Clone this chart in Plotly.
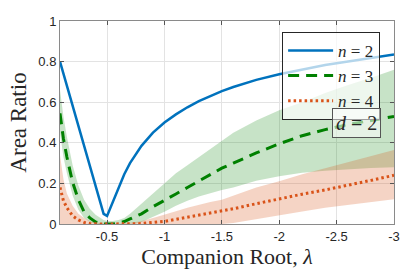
import plotly.graph_objects as go

# lambda grid (companion root)
lam = [-0.09, -0.12, -0.15, -0.2, -0.25, -0.3, -0.35, -0.4, -0.47, -0.5, -0.55, -0.6, -0.65,
       -0.7, -0.75, -0.8, -0.9, -1.0, -1.1, -1.2, -1.3, -1.4, -1.5, -1.6, -1.8, -2.0,
       -2.2, -2.4, -2.6, -2.8, -3.0]

n2 = [0.80, 0.74, 0.68, 0.58, 0.48, 0.385, 0.29, 0.19, 0.05, 0.04, 0.11, 0.18, 0.245,
      0.30, 0.345, 0.385, 0.45, 0.50, 0.54, 0.575, 0.605, 0.63, 0.655, 0.675, 0.71, 0.738,
      0.762, 0.783, 0.80, 0.818, 0.835]

n3 = [0.545, 0.42, 0.33, 0.205, 0.12, 0.06, 0.03, 0.01, 0.0, 0.0, 0.0, 0.005, 0.012,
      0.025, 0.037, 0.05, 0.085, 0.115, 0.148, 0.18, 0.213, 0.245, 0.275, 0.30, 0.35, 0.395,
      0.435, 0.465, 0.49, 0.51, 0.53]
n3_hi = [0.66, 0.53, 0.43, 0.29, 0.19, 0.12, 0.075, 0.045, 0.02, 0.015, 0.015, 0.02, 0.03,
         0.05, 0.075, 0.10, 0.15, 0.20, 0.25, 0.29, 0.33, 0.37, 0.41, 0.45, 0.51, 0.56,
         0.60, 0.645, 0.685, 0.72, 0.76]
n3_lo = [0.45, 0.33, 0.25, 0.14, 0.07, 0.03, 0.01, 0.0, 0.0, 0.0, 0.0, 0.0, 0.0,
         0.0, 0.003, 0.01, 0.035, 0.06, 0.09, 0.115, 0.135, 0.152, 0.168, 0.18, 0.213, 0.235,
         0.252, 0.262, 0.27, 0.276, 0.28]

n4 = [0.18, 0.115, 0.08, 0.04, 0.02, 0.008, 0.002, 0.0, 0.0, 0.0, 0.0, 0.0, 0.0,
      0.0, 0.0, 0.002, 0.008, 0.013, 0.023, 0.033, 0.043, 0.053, 0.063, 0.075, 0.10, 0.125,
      0.147, 0.168, 0.19, 0.215, 0.24]
n4_hi = [0.34, 0.22, 0.15, 0.09, 0.05, 0.03, 0.015, 0.008, 0.003, 0.002, 0.002, 0.003, 0.004,
         0.006, 0.01, 0.015, 0.03, 0.045, 0.063, 0.08, 0.095, 0.108, 0.12, 0.14, 0.18, 0.21,
         0.245, 0.275, 0.305, 0.335, 0.365]
n4_lo = [0.0, 0.0, 0.0, 0.0, 0.0, 0.0, 0.0, 0.0, 0.0, 0.0, 0.0, 0.0, 0.0,
         0.0, 0.0, 0.0, 0.0, 0.0, 0.0, 0.0, 0.0, 0.0, 0.0, 0.005, 0.025, 0.045,
         0.062, 0.08, 0.095, 0.11, 0.122]

xticks = [-0.5, -1, -1.5, -2, -2.5, -3]
xticklabels = ["-0.5", "-1", "-1.5", "-2", "-2.5", "-3"]
yticks = [0, 0.2, 0.4, 0.6, 0.8, 1]
yticklabels = ["0", "0.2", "0.4", "0.6", "0.8", "1"]

BLUE = "#0072BD"
GREEN = "#008000"
RED = "#D95319"

fig = go.Figure()

# bands
fig.add_trace(go.Scatter(x=lam, y=n3_hi, mode="lines", line=dict(width=0), showlegend=False, hoverinfo="skip"))
fig.add_trace(go.Scatter(x=lam, y=n3_lo, mode="lines", line=dict(width=0), fill="tonexty",
                         fillcolor="rgba(0,128,0,0.22)", showlegend=False, hoverinfo="skip"))
fig.add_trace(go.Scatter(x=lam, y=n4_hi, mode="lines", line=dict(width=0), showlegend=False, hoverinfo="skip"))
fig.add_trace(go.Scatter(x=lam, y=n4_lo, mode="lines", line=dict(width=0), fill="tonexty",
                         fillcolor="rgba(217,83,25,0.25)", showlegend=False, hoverinfo="skip"))

# lines
fig.add_trace(go.Scatter(x=lam, y=n2, mode="lines", name="<i>n</i> = 2",
                         line=dict(color=BLUE, width=2.5)))
fig.add_trace(go.Scatter(x=lam, y=n3, mode="lines", name="<i>n</i> = 3",
                         line=dict(color=GREEN, width=3, dash="11px,7px")))
fig.add_trace(go.Scatter(x=lam, y=n4, mode="lines", name="<i>n</i> = 4",
                         line=dict(color=RED, width=3, dash="2.5px,3px")))

axis_common = dict(
    showgrid=True, gridcolor="#e3e3e3", gridwidth=1,
    showline=True, linecolor="#8a8a8a", linewidth=1, mirror="ticks",
    ticks="inside", ticklen=4, tickcolor="#555555",
    tickfont=dict(family="Liberation Sans, Arial, sans-serif", size=13, color="#262626"),
    zeroline=False, automargin=False,
)

fig.update_xaxes(range=[-0.09, -3.0], tickvals=xticks, ticktext=xticklabels,
                 title=dict(text="Companion Root, <i>λ</i>", standoff=3,
                            font=dict(family="Liberation Serif, serif", size=22, color="#262626")),
                 **axis_common)
fig.update_yaxes(range=[0, 1], tickvals=yticks, ticktext=yticklabels,
                 title=dict(text="Area Ratio", standoff=5,
                            font=dict(family="Liberation Serif, serif", size=23, color="#262626")),
                 **axis_common)

fig.update_layout(
    width=407, height=272,
    margin=dict(l=60, r=13, t=21, b=48),
    paper_bgcolor="white", plot_bgcolor="white",
    legend=dict(x=0.665, y=0.946, xanchor="left", yanchor="top", traceorder="normal",
                bgcolor="rgba(255,255,255,0.7)", bordercolor="#262626", borderwidth=1,
                font=dict(family="Liberation Serif, serif", size=17, color="#262626"),
                itemwidth=45, tracegroupgap=0),
    annotations=[dict(x=0.888, y=0.5, xref="paper", yref="paper", xanchor="center", yanchor="middle",
                      text="<i>d</i> = 2", showarrow=False,
                      font=dict(family="Liberation Serif, serif", size=20, color="#262626"),
                      bgcolor="rgba(255,255,255,0.55)", bordercolor="#555555", borderwidth=1,
                      borderpad=3)],
    showlegend=True,
)

fig.write_html("out.html", config={"displayModeBar": False},
               post_script="document.body.style.margin='0px';")
